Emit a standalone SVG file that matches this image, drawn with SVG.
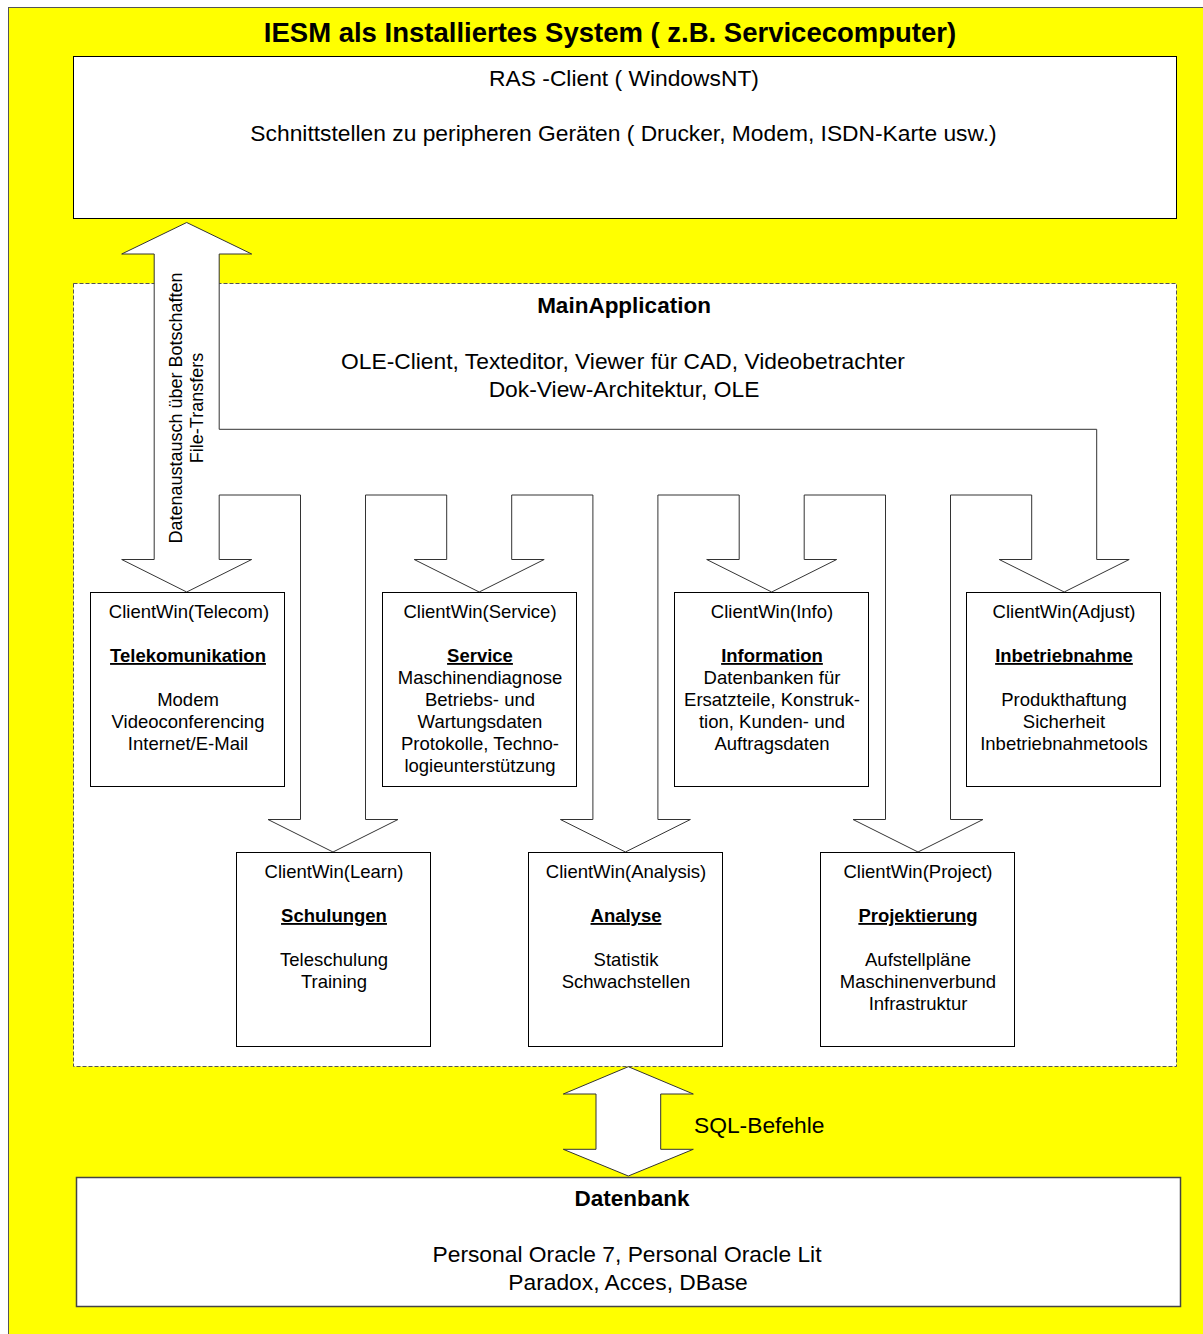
<svg xmlns="http://www.w3.org/2000/svg" width="1203" height="1334" viewBox="0 0 1203 1334">
<style>
text{font-family:"Liberation Sans",Arial,sans-serif;fill:#000}
.t{font-size:27.5px;font-weight:bold}
.m{font-size:22.8px}
.mb{font-size:22.5px;font-weight:bold}
.s{font-size:18.5px}
.sb{font-size:18.5px;font-weight:bold;text-decoration:underline}
.r{font-size:18px}
.box{fill:#fff;stroke:#000;stroke-width:1}
.arr{fill:#fff;stroke:#333;stroke-width:1}
</style>
<g id="frame">
<rect x="8.5" y="7.5" width="1200" height="1330" fill="#ffff00" stroke="#555" stroke-width="1"/>
<text class="t" x="610" y="42" text-anchor="middle">IESM als Installiertes System ( z.B. Servicecomputer)</text>
</g>
<g id="ras-client">
<rect class="box" x="73.5" y="56.5" width="1103" height="162"/>
<text class="m" x="624" y="86" text-anchor="middle">RAS -Client ( WindowsNT)</text>
<text class="m" x="623.5" y="141" text-anchor="middle">Schnittstellen zu peripheren Geräten ( Drucker, Modem, ISDN-Karte usw.)</text>
</g>
<g id="main-application">
<rect x="73.5" y="283.5" width="1103" height="783" fill="#fff" stroke="#555" stroke-width="1" stroke-dasharray="4 2"/>
<text class="mb" x="624" y="313" text-anchor="middle">MainApplication</text>
<text class="m" x="623" y="369" text-anchor="middle">OLE-Client, Texteditor, Viewer für CAD, Videobetrachter</text>
<text class="m" x="624" y="397" text-anchor="middle">Dok-View-Architektur, OLE</text>
</g>
<g id="connectors">
<polygon class="arr" points="186.7,222.5 251.7,254 219.2,254 219.2,429.3 1096.7,429.3 1096.7,559.5 1129.2,559.5 1064.2,592 999.2,559.5 1031.7,559.5 1031.7,495 950.5,495 950.5,819.5 983,819.5 918,852 853,819.5 885.5,819.5 885.5,495 804.2,495 804.2,559.5 836.7,559.5 771.7,592 706.7,559.5 739.2,559.5 739.2,495 657.9,495 657.9,819.5 690.4,819.5 625.4,852 560.4,819.5 592.9,819.5 592.9,495 511.7,495 511.7,559.5 544.2,559.5 479.2,592 414.2,559.5 446.7,559.5 446.7,495 365.5,495 365.5,819.5 398,819.5 333,852 268,819.5 300.5,819.5 300.5,495 219.2,495 219.2,559.5 251.7,559.5 186.7,592 121.7,559.5 154.2,559.5 154.2,254 121.7,254"/>
<text class="r" transform="translate(182,408) rotate(-90)" text-anchor="middle">Datenaustausch über Botschaften</text>
<text class="r" transform="translate(203,408) rotate(-90)" text-anchor="middle">File-Transfers</text>
<polygon class="arr" points="628.3,1066.7 693.3,1094 660.7,1094 660.7,1149.3 693.3,1149.3 628.3,1176 563.3,1149.3 596,1149.3 596,1094 563.3,1094"/>
<text class="m" x="694" y="1133">SQL-Befehle</text>
</g>
<g id="telecom">
<rect class="box" x="90.5" y="592.5" width="194" height="194"/>
<text class="s" x="189" y="618" text-anchor="middle">ClientWin(Telecom)</text>
<text class="sb" x="188" y="662" text-anchor="middle">Telekomunikation</text>
<text class="s" x="188" y="706" text-anchor="middle">Modem</text>
<text class="s" x="188" y="728" text-anchor="middle">Videoconferencing</text>
<text class="s" x="188" y="750" text-anchor="middle">Internet/E-Mail</text>
</g>
<g id="service">
<rect class="box" x="382.5" y="592.5" width="194" height="194"/>
<text class="s" x="480" y="618" text-anchor="middle">ClientWin(Service)</text>
<text class="sb" x="480" y="662" text-anchor="middle">Service</text>
<text class="s" x="480" y="684" text-anchor="middle">Maschinendiagnose</text>
<text class="s" x="480" y="706" text-anchor="middle">Betriebs- und</text>
<text class="s" x="480" y="728" text-anchor="middle">Wartungsdaten</text>
<text class="s" x="480" y="750" text-anchor="middle">Protokolle, Techno-</text>
<text class="s" x="480" y="772" text-anchor="middle">logieunterstützung</text>
</g>
<g id="info">
<rect class="box" x="674.5" y="592.5" width="194" height="194"/>
<text class="s" x="772" y="618" text-anchor="middle">ClientWin(Info)</text>
<text class="sb" x="772" y="662" text-anchor="middle">Information</text>
<text class="s" x="772" y="684" text-anchor="middle">Datenbanken für</text>
<text class="s" x="772" y="706" text-anchor="middle">Ersatzteile, Konstruk-</text>
<text class="s" x="772" y="728" text-anchor="middle">tion, Kunden- und</text>
<text class="s" x="772" y="750" text-anchor="middle">Auftragsdaten</text>
</g>
<g id="adjust">
<rect class="box" x="966.5" y="592.5" width="194" height="194"/>
<text class="s" x="1064" y="618" text-anchor="middle">ClientWin(Adjust)</text>
<text class="sb" x="1064" y="662" text-anchor="middle">Inbetriebnahme</text>
<text class="s" x="1064" y="706" text-anchor="middle">Produkthaftung</text>
<text class="s" x="1064" y="728" text-anchor="middle">Sicherheit</text>
<text class="s" x="1064" y="750" text-anchor="middle">Inbetriebnahmetools</text>
</g>
<g id="learn">
<rect class="box" x="236.5" y="852.5" width="194" height="194"/>
<text class="s" x="334" y="878" text-anchor="middle">ClientWin(Learn)</text>
<text class="sb" x="334" y="922" text-anchor="middle">Schulungen</text>
<text class="s" x="334" y="966" text-anchor="middle">Teleschulung</text>
<text class="s" x="334" y="988" text-anchor="middle">Training</text>
</g>
<g id="analysis">
<rect class="box" x="528.5" y="852.5" width="194" height="194"/>
<text class="s" x="626" y="878" text-anchor="middle">ClientWin(Analysis)</text>
<text class="sb" x="626" y="922" text-anchor="middle">Analyse</text>
<text class="s" x="626" y="966" text-anchor="middle">Statistik</text>
<text class="s" x="626" y="988" text-anchor="middle">Schwachstellen</text>
</g>
<g id="project">
<rect class="box" x="820.5" y="852.5" width="194" height="194"/>
<text class="s" x="918" y="878" text-anchor="middle">ClientWin(Project)</text>
<text class="sb" x="918" y="922" text-anchor="middle">Projektierung</text>
<text class="s" x="918" y="966" text-anchor="middle">Aufstellpläne</text>
<text class="s" x="918" y="988" text-anchor="middle">Maschinenverbund</text>
<text class="s" x="918" y="1010" text-anchor="middle">Infrastruktur</text>
</g>
<g id="datenbank">
<rect x="76.5" y="1177.5" width="1104" height="129" fill="#fff" stroke="#444" stroke-width="1.5"/>
<text class="mb" x="632" y="1206" text-anchor="middle">Datenbank</text>
<text class="m" x="627" y="1262" text-anchor="middle">Personal Oracle 7, Personal Oracle Lit</text>
<text class="m" x="628" y="1290" text-anchor="middle">Paradox, Acces, DBase</text>
</g>
</svg>
